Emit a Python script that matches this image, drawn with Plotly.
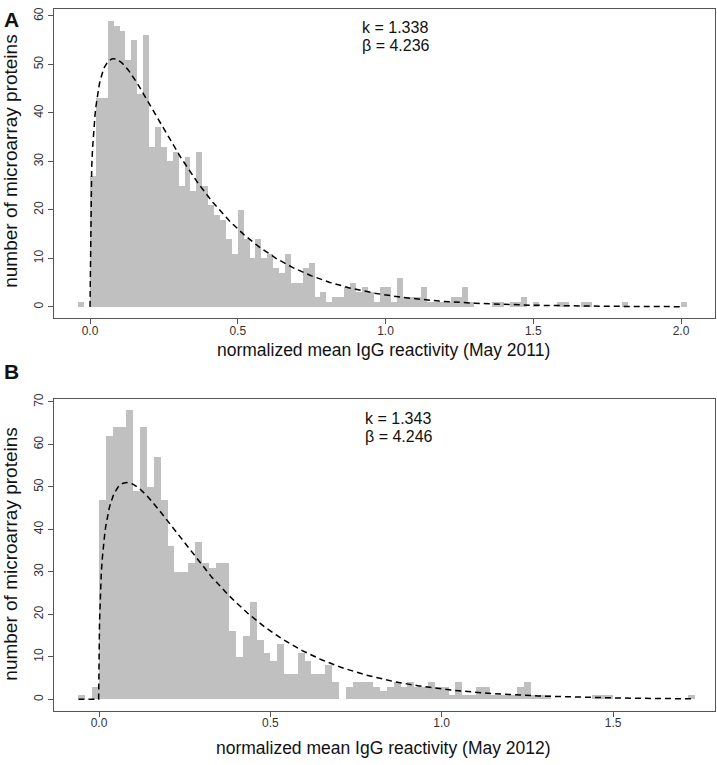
import math
import numpy as np
import plotly.graph_objects as go

# ---------------- data ----------------
BIN_WIDTH = 0.02

# Panel A (May 2011): first bin starts at -0.04
bin_start_a = -0.04
counts_a = [
    1, 0,
    27, 43, 43, 59, 58, 57, 51, 55, 44, 56, 33, 37, 33, 30, 32, 25, 31, 24,
    32, 25, 21, 19, 18, 14, 11, 20, 14, 10, 14,
    10, 11, 8, 7, 11, 5, 5, 8, 9, 2, 3, 1, 2, 2, 4, 5, 3, 4, 3, 1,
    4, 4, 1, 6, 2, 2, 2, 4, 1, 1, 1, 1, 2, 2, 4, 1,
    0, 0, 0, 1, 1, 0, 1, 1, 2, 0, 1, 0, 0, 0, 1, 1, 0, 0, 1, 1,
    0, 0, 0, 0, 0, 1, 0, 0, 0, 0, 0, 0, 0, 0, 0, 1,
]
k_a, beta_a = 1.338, 4.236
n_proteins_a = 1091
curve_range_a = (0.0, 2.0)

# Panel B (May 2012): first bin starts at -0.06
bin_start_b = -0.06
counts_b = [
    1, 0, 3,
    47, 62, 64, 64, 68, 49, 64, 50, 57, 47, 36, 30, 30, 32, 37, 32, 31, 32,
    32, 16, 10, 15, 23, 14, 11, 9, 13, 6, 6, 11, 9, 6, 6, 8, 4, 0,
    3, 4, 4, 4, 3, 2, 3, 4, 3, 4, 3, 3, 4, 3, 3, 1, 4, 1, 1, 3, 3, 1, 1, 1, 1,
    3, 4, 1, 1, 1, 0, 0, 0, 0, 0, 0, 1, 1, 1,
    0, 0, 0, 0, 0, 0, 0, 0, 0, 0, 0, 1,
]
k_b, beta_b = 1.343, 4.246
n_proteins_b = 1090
curve_range_b = (-0.06, 1.73)

# ---------------- helpers ----------------
def centers(start, n):
    return [round(start + BIN_WIDTH * (i + 0.5), 4) for i in range(n)]

def gamma_curve(k, beta, n_total, xr):
    xs = np.linspace(xr[0], xr[1], 700)
    ys = []
    for x in xs:
        if x <= 0:
            ys.append(0.0)
        else:
            lf = k * math.log(beta) + (k - 1) * math.log(x) - beta * x - math.lgamma(k)
            ys.append(n_total * BIN_WIDTH * math.exp(lf))
    return xs, ys

BAR_COLOR = "rgb(192,192,192)"
FONT = "Liberation Sans Narrow, Liberation Sans, Arial, sans-serif"
FONT_REG = "Liberation Sans, Arial, sans-serif"

fig = go.Figure()

# Panel A
fig.add_trace(go.Bar(x=centers(bin_start_a, len(counts_a)), y=counts_a, width=BIN_WIDTH,
                     marker=dict(color=BAR_COLOR, line=dict(width=0)),
                     xaxis="x", yaxis="y", showlegend=False))
xa, ya = gamma_curve(k_a, beta_a, n_proteins_a, curve_range_a)
fig.add_trace(go.Scatter(x=xa, y=ya, mode="lines",
                         line=dict(color="black", width=1.5, dash="6px,4px"),
                         xaxis="x", yaxis="y", showlegend=False))

# Panel B
fig.add_trace(go.Bar(x=centers(bin_start_b, len(counts_b)), y=counts_b, width=BIN_WIDTH,
                     marker=dict(color=BAR_COLOR, line=dict(width=0)),
                     xaxis="x2", yaxis="y2", showlegend=False))
xb, yb = gamma_curve(k_b, beta_b, n_proteins_b, curve_range_b)
fig.add_trace(go.Scatter(x=xb, y=yb, mode="lines",
                         line=dict(color="black", width=1.5, dash="6px,4px"),
                         xaxis="x2", yaxis="y2", showlegend=False))

W, H = 717, 765

def px_x(p):
    return p / W

def px_y(p):
    return 1 - p / H

axis_common = dict(showline=True, mirror=True, linecolor="#555", linewidth=1,
                   ticks="outside", ticklen=5, tickcolor="#555", tickwidth=1,
                   showgrid=False, zeroline=False,
                   tickfont=dict(family=FONT, size=12, color="#333"))

fig.update_layout(
    width=W, height=H,
    margin=dict(l=0, r=0, t=0, b=0),
    paper_bgcolor="white", plot_bgcolor="white",
    bargap=0, hovermode=False,
    xaxis=dict(domain=[px_x(53.5), px_x(715)], range=[-0.1235, 2.115],
               tickvals=[0, 0.5, 1, 1.5, 2], ticktext=["0.0", "0.5", "1.0", "1.5", "2.0"],
               anchor="y", ticklabelstandoff=-4, **axis_common),
    yaxis=dict(domain=[px_y(314.8), px_y(3.4)], range=[-2.36, 61.36],
               tickvals=[0, 10, 20, 30, 40, 50, 60], tickangle=-90,
               anchor="x", **axis_common),
    xaxis2=dict(domain=[px_x(53.5), px_x(715)], range=[-0.1328, 1.7975],
                tickvals=[0, 0.5, 1, 1.5], ticktext=["0.0", "0.5", "1.0", "1.5"],
                anchor="y2", ticklabelstandoff=-4, **axis_common),
    yaxis2=dict(domain=[px_y(710.5), px_y(396)], range=[-2.72, 70.72],
                tickvals=[0, 10, 20, 30, 40, 50, 60, 70], tickangle=-90,
                anchor="x2", **axis_common),
)

def ann(text, x, y, size, bold=False, angle=0, xanchor="center", font=FONT_REG):
    t = f"<b>{text}</b>" if bold else text
    fig.add_annotation(text=t, x=px_x(x), y=px_y(y), xref="paper", yref="paper",
                       showarrow=False, xanchor=xanchor, yanchor="middle",
                       textangle=angle, font=dict(family=font, size=size, color="#111"))

# Panel letters
ann("A", 11, 14, 21, bold=True)
ann("B", 11, 368, 21, bold=True)

# Axis titles
ann("number of microarray proteins", 11, 157, 19, angle=-90)
ann("number of microarray proteins", 11, 553, 19, angle=-90)
ann("normalized mean IgG reactivity (May 2011)", 384, 347, 17.5)
ann("normalized mean IgG reactivity (May 2012)", 384, 748, 17.5)

# Fit parameters
ann("k = 1.338", 360, 22, 16, xanchor="left")
ann("\u03b2 = 4.236", 360, 40, 16, xanchor="left")
ann("k = 1.343", 363, 416, 16, xanchor="left")
ann("\u03b2 = 4.246", 363, 434, 16, xanchor="left")

fig.write_html("out.html",
               config={"displayModeBar": False, "staticPlot": True},
               post_script="document.body.style.margin='0';document.body.style.overflow='hidden';")
